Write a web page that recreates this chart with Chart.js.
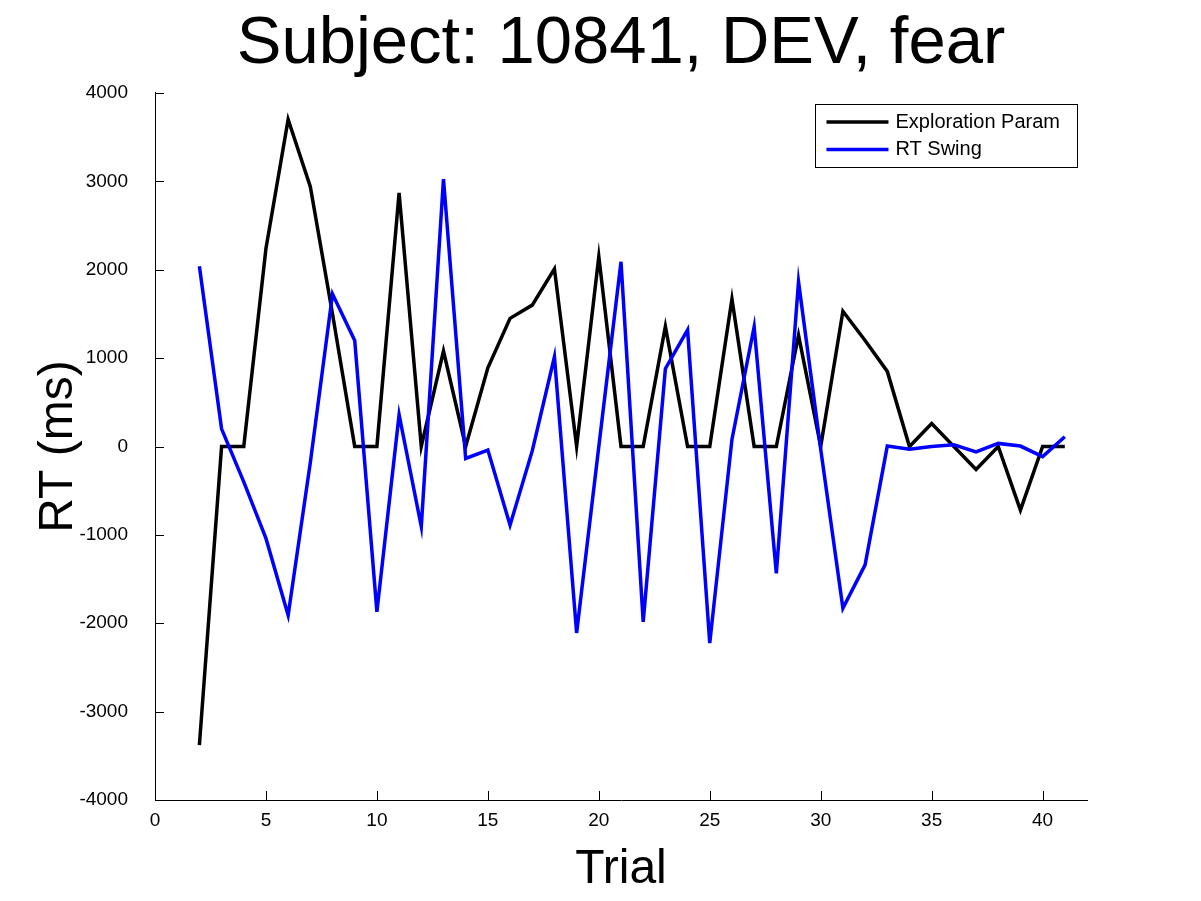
<!DOCTYPE html>
<html>
<head>
<meta charset="utf-8">
<title>Subject: 10841, DEV, fear</title>
<script src="https://cdn.jsdelivr.net/npm/chart.js@4.4.0/dist/chart.umd.min.js"></script>
<style>
  html, body { margin: 0; padding: 0; background: #fff; }
  canvas { display: block; }
</style>
</head>
<body>
<canvas id="chart" width="1201" height="901"></canvas>
<script>
// data
const trials = [2, 3, 4, 5, 6, 7, 8, 9, 10, 11, 12, 13, 14, 15, 16, 17, 18, 19, 20, 21,
                22, 23, 24, 25, 26, 27, 28, 29, 30, 31, 32, 33, 34, 35, 36, 37, 38, 39, 40, 41];

const explorationParam = [-3380, 0, 0, 2240, 3700, 2940, 1500, 0, 0, 2870,
                          0, 1080, 0, 890, 1450, 1600, 2010, 0, 2150, 0,
                          0, 1360, 0, 0, 1670, 0, 0, 1260, 0, 1530,
                          1200, 850, 0, 260, 0, -260, 0, -720, 0, 0];

const rtSwing = [2040, 200, -400, -1040, -1910, -180, 1725, 1200, -1870, 360,
                 -905, 3025, -135, -40, -890, -50, 1015, -2110, 0, 2090,
                 -1985, 880, 1320, -2225, 80, 1355, -1435, 1865, -30, -1830,
                 -1340, 5, -30, 0, 20, -60, 35, 5, -115, 110];

const seriesLabels = ['Exploration Param', 'RT Swing'];
const seriesColors = ['#000000', '#0000ff'];

const FONT = '"Liberation Sans", Arial, Helvetica, sans-serif';

function toPoints(xs, ys) {
    return xs.map((x, i) => ({ x: x, y: ys[i] }));
}

// matlab style inward tick marks
const innerTicks = {
    id: 'innerTicks',
    afterDraw(chart) {
        const ctx = chart.ctx;
        const xs = chart.scales.x;
        const ys = chart.scales.y;
        const len = 9;
        ctx.save();
        ctx.strokeStyle = '#000';
        ctx.lineWidth = 1;
        ctx.beginPath();
        xs.ticks.forEach(t => {
            const px = Math.round(xs.getPixelForValue(t.value)) + 0.5;
            ctx.moveTo(px, ys.bottom);
            ctx.lineTo(px, ys.bottom - len);
        });
        ys.ticks.forEach(t => {
            const py = Math.round(ys.getPixelForValue(t.value)) + 0.5;
            ctx.moveTo(xs.left, py);
            ctx.lineTo(xs.left + len, py);
        });
        ctx.stroke();
        ctx.restore();
    }
};

// boxed legend in the top right corner of the axes
const boxLegend = {
    id: 'boxLegend',
    afterDraw(chart) {
        const ctx = chart.ctx;
        const area = chart.chartArea;
        const sets = chart.data.datasets;
        ctx.save();
        ctx.font = '20px ' + FONT;
        let textW = 0;
        sets.forEach(d => { textW = Math.max(textW, ctx.measureText(d.label).width); });
        const w = 80 + textW + 17;
        const h = 63;
        const right = area.right - 10;
        const top = area.top + 11;
        const left = right - w;
        ctx.fillStyle = '#fff';
        ctx.fillRect(left, top, w, h);
        ctx.strokeStyle = '#000';
        ctx.lineWidth = 1;
        ctx.strokeRect(Math.round(left) + 0.5, Math.round(top) + 0.5, Math.round(w), h);
        sets.forEach((d, i) => {
            const y = top + 18 + i * 27.5;
            ctx.strokeStyle = d.borderColor;
            ctx.lineWidth = 3.5;
            ctx.beginPath();
            ctx.moveTo(left + 11, y);
            ctx.lineTo(left + 73, y);
            ctx.stroke();
            ctx.fillStyle = '#000';
            ctx.textBaseline = 'middle';
            ctx.textAlign = 'left';
            ctx.fillText(d.label, left + 80, y);
        });
        ctx.restore();
    }
};

const config = {
    type: 'line',
    data: {
        datasets: [{
            label: seriesLabels[0],
            data: toPoints(trials, explorationParam),
            borderColor: seriesColors[0],
            borderWidth: 3.5,
            pointRadius: 0,
            tension: 0,
            fill: false,
            order: 1,
        }, {
            label: seriesLabels[1],
            data: toPoints(trials, rtSwing),
            borderColor: seriesColors[1],
            borderWidth: 3.5,
            pointRadius: 0,
            tension: 0,
            fill: false,
            order: 0,
        }],
    },
    options: {
        responsive: false,
        animation: false,
        devicePixelRatio: 1,
        layout: {
            padding: { left: 0, right: 114, top: 0, bottom: 0 },
        },
        plugins: {
            legend: { display: false },
            tooltip: { enabled: false },
            title: {
                display: true,
                fullSize: false,
                text: 'Subject: 10841, DEV, fear',
                color: '#000',
                font: { family: FONT, size: 67, weight: 'normal' },
                padding: { top: 4, bottom: 8.6 },
            },
        },
        scales: {
            x: {
                type: 'linear',
                min: 0,
                max: 42,
                afterFit: s => { s.height = 101; },
                ticks: {
                    stepSize: 5,
                    includeBounds: false,
                    color: '#000',
                    padding: 9,
                    maxRotation: 0,
                    font: { family: FONT, size: 19 },
                    callback: v => String(v),
                },
                grid: { display: false, drawTicks: false },
                border: { display: true, color: '#000', width: 1 },
                title: {
                    display: true,
                    text: 'Trial',
                    color: '#000',
                    font: { family: FONT, size: 48 },
                    padding: { top: 0, bottom: 2.2 },
                },
            },
            y: {
                type: 'linear',
                min: -4000,
                max: 4000,
                afterFit: s => { s.width = 155; },
                ticks: {
                    stepSize: 1000,
                    includeBounds: false,
                    color: '#000',
                    padding: 27,
                    font: { family: FONT, size: 19 },
                    callback: v => String(v),
                },
                grid: { display: false, drawTicks: false },
                border: { display: true, color: '#000', width: 1 },
                title: {
                    display: true,
                    text: 'RT (ms)',
                    color: '#000',
                    font: { family: FONT, size: 48 },
                    padding: { top: 29.6, bottom: 0 },
                },
            },
        },
    },
    plugins: [innerTicks, boxLegend],
};

const ctx_chart = document.getElementById('chart').getContext('2d');
const chart = new Chart(ctx_chart, config);
</script>
</body>
</html>
